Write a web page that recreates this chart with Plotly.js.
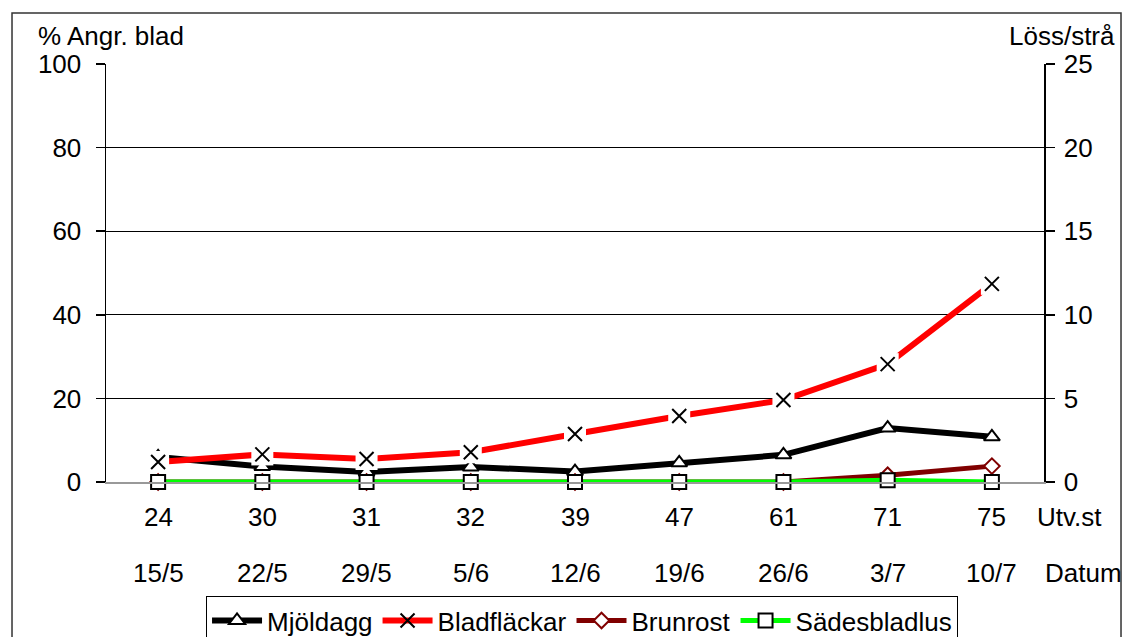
<!DOCTYPE html>
<html>
<head>
<meta charset="utf-8">
<script src="https://cdn.plot.ly/plotly-3.0.1.min.js"></script>
<style>
  html, body { margin: 0; padding: 0; background: #ffffff; }
  #chart { width: 1122px; height: 637px; }
</style>
</head>
<body>
<div id="chart"></div>
<script>
// Development stage (Utv.st) and observation date (Datum) per visit
const stages = ['24', '30', '31', '32', '39', '47', '61', '71', '75'];
const dates = ['15/5', '22/5', '29/5', '5/6', '12/6', '19/6', '26/6', '3/7', '10/7'];

// % attacked leaves (left axis)
const mjoldagg = [6.0, 3.7, 2.4, 3.6, 2.5, 4.6, 6.5, 12.9, 10.8];
const bladflackar = [4.8, 6.6, 5.5, 7.1, 11.5, 15.8, 19.6, 28.2, 47.4];
const brunrost = [0, 0, 0, 0, 0, 0, 0, 1.6, 3.8];

// Aphids per straw (right axis)
const sadesbladlus = [0, 0, 0, 0, 0, 0, 0, 0.1, 0];

const FONT = 'Liberation Sans, Arial, sans-serif';
const FS = 26;

const traces = [
  {
    name: 'Mjöldagg', x: stages, y: mjoldagg, type: 'scatter', mode: 'lines+markers', cliponaxis: false,
    line: { color: '#000000', width: 6 },
    marker: { symbol: 'triangle-up', size: 14, color: '#ffffff', line: { color: '#000000', width: 2 } }
  },
  {
    name: 'Bladfläckar', x: stages, y: bladflackar, type: 'scatter', mode: 'lines+markers', cliponaxis: false,
    line: { color: '#ff0000', width: 6 },
    marker: { symbol: 'x-thin', size: 14, color: '#000000', line: { color: '#000000', width: 2 } }
  },
  {
    // white backing that opens a gap in the line around each cross
    x: stages, y: bladflackar, type: 'scatter', mode: 'markers', showlegend: false, hoverinfo: 'skip',
    cliponaxis: false,
    marker: { symbol: 'square', size: 22, color: '#ffffff', line: { width: 0 } }
  },
  {
    x: stages, y: bladflackar, type: 'scatter', mode: 'markers', showlegend: false, hoverinfo: 'skip',
    cliponaxis: false,
    marker: { symbol: 'x-thin', size: 14, color: '#000000', line: { color: '#000000', width: 2 } }
  },
  {
    name: 'Brunrost', x: stages, y: brunrost, type: 'scatter', mode: 'lines+markers', cliponaxis: false,
    line: { color: '#800000', width: 5 },
    marker: { symbol: 'diamond', size: 12, color: '#ffffff', line: { color: '#800000', width: 2 } }
  },
  {
    name: 'Sädesbladlus', x: stages, y: sadesbladlus, yaxis: 'y2', type: 'scatter', mode: 'lines+markers',
    cliponaxis: false,
    line: { color: '#00ff00', width: 5 },
    marker: { symbol: 'square', size: 14, color: '#ffffff', line: { color: '#000000', width: 2 } }
  }
];

const txt = (x, xref, y, text, xanchor) => ({
  x: x, xref: xref, y: y, yref: 'paper', text: text, showarrow: false,
  xanchor: xanchor || 'center', yanchor: 'middle',
  font: { family: FONT, size: FS, color: '#000' }
});

const annotations = [];
stages.forEach((s, i) => {
  // category index positions on the x axis
  annotations.push(txt(i, 'x', -0.084, s));
  annotations.push(txt(i, 'x', -0.218, dates[i]));
});
annotations.push(
  txt(1.027, 'paper', -0.084, 'Utv.st'),
  txt(1.0416, 'paper', -0.218, 'Datum'),
  txt(-0.0746, 'paper', 1.067, '% Angr. blad', 'left'),
  txt(1.0778, 'paper', 1.067, 'Löss/strå', 'right')
);

const layout = {
  width: 1122, height: 637,
  margin: { l: 106, r: 78, t: 64, b: 155, autoexpand: false },
  paper_bgcolor: '#ffffff', plot_bgcolor: '#ffffff',
  font: { family: FONT, size: FS, color: '#000000' },
  showlegend: true,
  legend: {
    orientation: 'h', x: 0.5075, xanchor: 'center', y: -0.273, yanchor: 'top',
    bordercolor: '#000000', borderwidth: 1, bgcolor: '#ffffff', itemwidth: 50,
    font: { family: FONT, size: 26, color: '#000' }, traceorder: 'normal'
  },
  xaxis: {
    type: 'category', range: [-0.5, 8.5], showgrid: false, zeroline: false,
    showline: true, linecolor: '#999999', linewidth: 2, ticks: '', showticklabels: false,
    fixedrange: true
  },
  yaxis: {
    range: [0, 100], dtick: 20, tick0: 0, showgrid: true, gridcolor: '#000000', gridwidth: 1,
    zeroline: false, showline: true, linecolor: '#000000', linewidth: 1.5,
    ticks: 'outside', ticklen: 9, tickwidth: 1.5, tickcolor: '#000000', ticklabelstandoff: 9,
    tickfont: { family: FONT, size: FS, color: '#000' }, fixedrange: true
  },
  yaxis2: {
    range: [0, 25], dtick: 5, tick0: 0, overlaying: 'y', side: 'right', showgrid: false,
    zeroline: false, showline: true, linecolor: '#000000', linewidth: 1.5,
    ticks: 'outside', ticklen: 9, tickwidth: 1.5, tickcolor: '#000000', ticklabelstandoff: 4,
    tickfont: { family: FONT, size: FS, color: '#000' }, fixedrange: true
  },
  annotations: annotations,
  shapes: [
    { type: 'rect', xref: 'paper', yref: 'paper', x0: -0.1002, x1: 1.0821, y0: -0.40, y1: 1.122,
      line: { color: '#333333', width: 1.5 }, fillcolor: 'rgba(0,0,0,0)', layer: 'below' }
  ]
};

Plotly.newPlot('chart', traces, layout, { displayModeBar: false, staticPlot: true });
</script>
</body>
</html>
